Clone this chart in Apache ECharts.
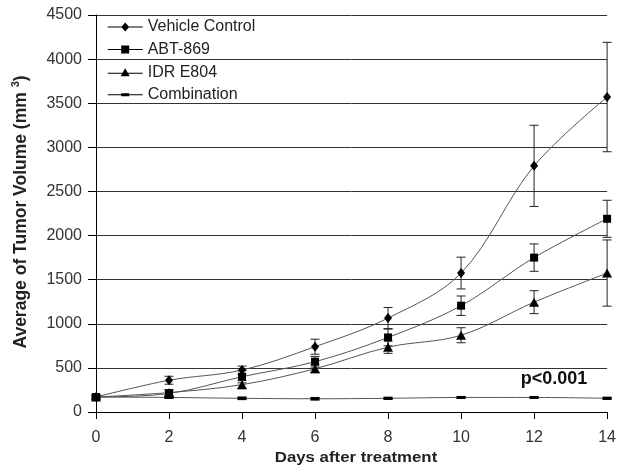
<!DOCTYPE html>
<html><head><meta charset="utf-8">
<script src="https://cdn.jsdelivr.net/npm/echarts@6/dist/echarts.min.js"></script>
<style>html,body{margin:0;padding:0;background:#fff}#c{width:619px;height:474px}</style>
</head><body><div id="c"></div>
<script>
const days = [0, 2, 4, 6, 8, 10, 12, 14];
const vehicle = [170, 360, 475, 740, 1065, 1575, 2790, 3570];
const vehicleErr = [25, 45, 45, 85, 120, 180, 460, 620];
const abt = [170, 210, 400, 570, 845, 1205, 1750, 2190];
const abtErr = [25, 30, 70, 60, 95, 110, 155, 210];
const idr = [170, 220, 310, 490, 735, 870, 1245, 1575];
const idrErr = [25, 35, 45, 45, 70, 85, 130, 375];
const combo = [170, 165, 155, 150, 155, 165, 165, 155];
const comboErr = [20, 10, 15, 15, 12, 8, 8, 12];
const seriesNames = ['Vehicle Control', 'ABT-869', 'IDR E804', 'Combination'];
const yTicks = [0, 500, 1000, 1500, 2000, 2500, 3000, 3500, 4000, 4500];

const chart = echarts.init(document.getElementById('c'), null, {renderer: 'canvas'});
const font = 'Arial, "Liberation Sans", sans-serif';

const legendIcons = [
  'path://M0,4H35V5H0Z M17.5,0L21.5,4.5L17.5,9L13.5,4.5Z',
  'path://M0,3.5H35V4.5H0Z M13.5,0H21.5V8H13.5Z',
  'path://M0,4.5H35V5.5H0Z M17.5,0L22,8L13,8Z',
  'path://M0,1H35V2H0Z M13.5,0H21.5V3H13.5Z'
];

function pairs(vals) { return days.map((d, i) => [d, vals[i]]); }
function errData(vals, errs) { return days.map((d, i) => [d, vals[i] - errs[i], vals[i] + errs[i]]); }
function errSeries(vals, errs) {
  return {
    type: 'custom', silent: true, z: 5,
    data: errData(vals, errs),
    renderItem: function (params, api) {
      const x = api.value(0);
      const lo = api.coord([x, api.value(1)]);
      const hi = api.coord([x, api.value(2)]);
      const w = 4.5;
      const st = {stroke: '#222', lineWidth: 1};
      return {type: 'group', children: [
        {type: 'line', shape: {x1: lo[0], y1: lo[1], x2: hi[0], y2: hi[1]}, style: st},
        {type: 'line', shape: {x1: lo[0] - w, y1: lo[1], x2: lo[0] + w, y2: lo[1]}, style: st},
        {type: 'line', shape: {x1: hi[0] - w, y1: hi[1], x2: hi[0] + w, y2: hi[1]}, style: st}
      ]};
    }
  };
}
function lineSeries(name, vals, symbol, size) {
  return {
    name: name, type: 'line', data: pairs(vals), smooth: 0.35,
    symbol: symbol, symbolSize: size, z: 6,
    lineStyle: {color: '#555', width: 1},
    itemStyle: {color: '#000', borderWidth: 0}
  };
}

chart.setOption({
  animation: false,
  backgroundColor: '#fff',
  grid: {left: 96, right: 8, top: 15, bottom: 62},
  legend: {
    orient: 'vertical', left: 107.7, top: 19, padding: 0,
    itemWidth: 35, itemHeight: 12, itemGap: 6.6,
    textStyle: {fontFamily: font, fontSize: 16, lineHeight: 16, color: '#222'},
    data: seriesNames.map((n, i) => ({name: n, icon: legendIcons[i]}))
  },
  xAxis: {
    type: 'value', min: 0, max: 14, interval: 2,
    axisLine: {lineStyle: {color: '#000', width: 1}},
    axisTick: {show: true, length: 7, lineStyle: {color: '#000'}},
    axisLabel: {fontFamily: font, fontSize: 16, color: '#333', margin: 18},
    splitLine: {show: false}
  },
  yAxis: {
    type: 'value', min: yTicks[0], max: yTicks[yTicks.length - 1], interval: 500,
    axisLine: {show: true, lineStyle: {color: '#000', width: 1}},
    axisTick: {show: true, length: 8, lineStyle: {color: '#000'}},
    axisLabel: {fontFamily: font, fontSize: 16, color: '#333', margin: 14,
      formatter: v => String(v)},
    splitLine: {show: true, lineStyle: {color: '#333', width: 1}}
  },
  graphic: [
    {type: 'text', x: 356, y: 458, scaleX: 1.12,
     style: {text: 'Days after treatment', font: 'bold 15px ' + font, fill: '#222',
       textAlign: 'center', textVerticalAlign: 'middle'}},
    {type: 'text', rotation: Math.PI / 2, x: 21, y: 212,
     style: {text: '{t|Average of Tumor Volume (mm }{s|3}{t|)}',
       textAlign: 'center', textVerticalAlign: 'middle',
       rich: {t: {font: 'bold 17.5px ' + font, fill: '#222'},
              s: {font: 'bold 11px ' + font, fill: '#222', padding: [0, 0, 10, 0]}}}},
    {type: 'text', x: 554, y: 379,
     style: {text: 'p<0.001', font: 'bold 18px ' + font, fill: '#111',
       textAlign: 'center', textVerticalAlign: 'middle'}}
  ],
  series: [
    lineSeries(seriesNames[0], vehicle, 'diamond', [8, 10]),
    lineSeries(seriesNames[1], abt, 'rect', 8),
    lineSeries(seriesNames[2], idr, 'triangle', [10, 9]),
    lineSeries(seriesNames[3], combo, 'rect', [9, 3]),
    errSeries(vehicle, vehicleErr),
    errSeries(abt, abtErr),
    errSeries(idr, idrErr),
    errSeries(combo, comboErr)
  ]
});
</script></body></html>
